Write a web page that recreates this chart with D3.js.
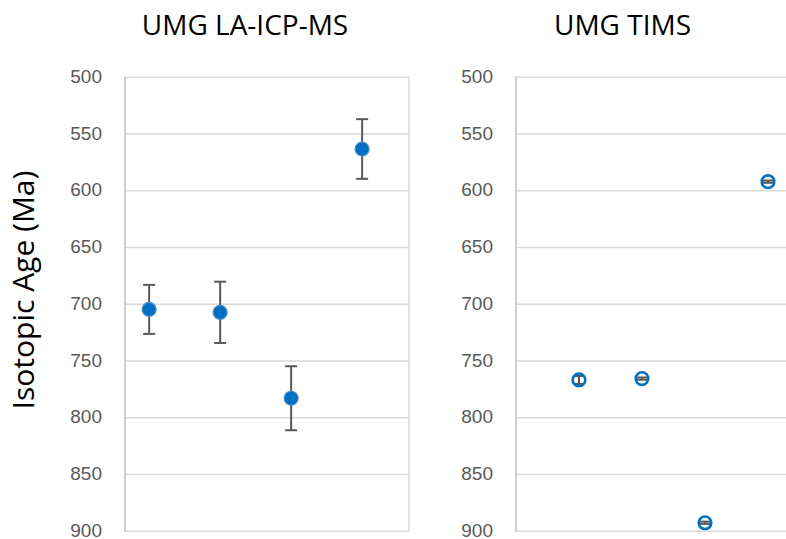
<!DOCTYPE html>
<html>
<head>
<meta charset="utf-8">
<script src="https://cdn.jsdelivr.net/npm/d3@7"></script>
<style>
  body { margin: 0; background: #fff; }
  svg { display: block; font-family: "Open Sans", sans-serif; }
</style>
</head>
<body>
<div id="chart"></div>
<script>
// sample positions along x (no axis labels shown)
var samples = [1, 2, 3, 4];

// UMG LA-ICP-MS ages and 2-sigma errors (Ma)
var laAges = [705, 707.6, 783.3, 563.7];
var laErrs = [21.6, 27, 28.2, 26.3];

// UMG TIMS ages and errors (Ma)
var timsAges = [767.2, 766, 893, 592.5];
var timsErrs = [3.5, 1, 1, 1];

var ageTicks = [500, 550, 600, 650, 700, 750, 800, 850, 900];

var svgWidth = 786;
var svgHeight = 539;

var svg = d3.select("#chart")
    .append("svg")
    .attr("width", svgWidth)
    .attr("height", svgHeight);

// y scale is shared, reversed (older ages downward)
var yScale = d3.scaleLinear()
    .domain([500, 900])
    .range([76.7, 530.7]);

var panels = [
    { title: "UMG LA-ICP-MS", titleX: 245, ages: laAges, errs: laErrs,
      xDomain: [0.66, 4.66], x0: 125, x1: 409, filled: true, cap: 6 },
    { title: "UMG TIMS", titleX: 622.5, ages: timsAges, errs: timsErrs,
      xDomain: [0, 5], x0: 516, x1: 831, filled: false, cap: 5 }
];

panels.forEach(function(p) {
    var xScale = d3.scaleLinear()
        .domain(p.xDomain)
        .range([p.x0, p.x1]);

    var g = svg.append("g");

    // gridlines + tick labels
    var leftAxis = d3.axisLeft(yScale)
        .tickValues(ageTicks)
        .tickSize(-(p.x1 - p.x0))
        .tickPadding(23)
        .tickFormat(d3.format("d"));

    var yAxis = g.append("g")
        .attr("transform", `translate(${p.x0}, 0)`)
        .call(leftAxis);

    yAxis.select(".domain").remove();
    yAxis.selectAll(".tick line")
        .attr("stroke", "#d9d9d9")
        .attr("stroke-width", 1.5);
    yAxis.selectAll(".tick text")
        .attr("fill", "#595959")
        .attr("font-size", "19px")
        .attr("dy", "0.3em");

    // left axis line
    g.append("line")
        .attr("x1", p.x0).attr("x2", p.x0)
        .attr("y1", yScale(500)).attr("y2", yScale(900) + 1)
        .attr("stroke", "#bfbfbf")
        .attr("stroke-width", 1.5);

    // right border of plot area
    g.append("line")
        .attr("x1", p.x1).attr("x2", p.x1)
        .attr("y1", yScale(500)).attr("y2", yScale(900))
        .attr("stroke", "#d9d9d9")
        .attr("stroke-width", 1.5);

    // title
    svg.append("text")
        .attr("x", p.titleX)
        .attr("y", 35)
        .attr("text-anchor", "middle")
        .attr("font-size", "28px")
        .attr("fill", "#000")
        .text(p.title);

    var pts = samples.map(function(s, i) {
        return { x: s, age: p.ages[i], err: p.errs[i] };
    });

    var bars = g.selectAll(".errbar")
        .data(pts)
        .enter()
        .append("g")
        .attr("stroke", "#595959")
        .attr("stroke-width", 2);

    bars.append("line")
        .attr("x1", d => xScale(d.x)).attr("x2", d => xScale(d.x))
        .attr("y1", d => yScale(d.age - d.err))
        .attr("y2", d => yScale(d.age + d.err));
    bars.append("line")
        .attr("x1", d => xScale(d.x) - p.cap).attr("x2", d => xScale(d.x) + p.cap)
        .attr("y1", d => yScale(d.age - d.err))
        .attr("y2", d => yScale(d.age - d.err));
    bars.append("line")
        .attr("x1", d => xScale(d.x) - p.cap).attr("x2", d => xScale(d.x) + p.cap)
        .attr("y1", d => yScale(d.age + d.err))
        .attr("y2", d => yScale(d.age + d.err));

    var circles = g.selectAll("circle")
        .data(pts)
        .enter()
        .append("circle")
        .attr("cx", d => xScale(d.x))
        .attr("cy", d => yScale(d.age));

    if (p.filled) {
        circles.attr("r", 7)
            .attr("fill", "#0070c0")
            .attr("stroke", "#4a8fd0")
            .attr("stroke-width", 1.2);
        // markers sit on top of the bars
        circles.raise();
    } else {
        circles.attr("r", 6.3)
            .attr("fill", "none")
            .attr("stroke", "#0070c0")
            .attr("stroke-width", 2.6);
    }
});

// y axis title
svg.append("text")
    .attr("transform", "translate(34, 290) rotate(-90)")
    .attr("text-anchor", "middle")
    .attr("font-size", "30px")
    .attr("fill", "#000")
    .text("Isotopic Age (Ma)");
</script>
</body>
</html>
